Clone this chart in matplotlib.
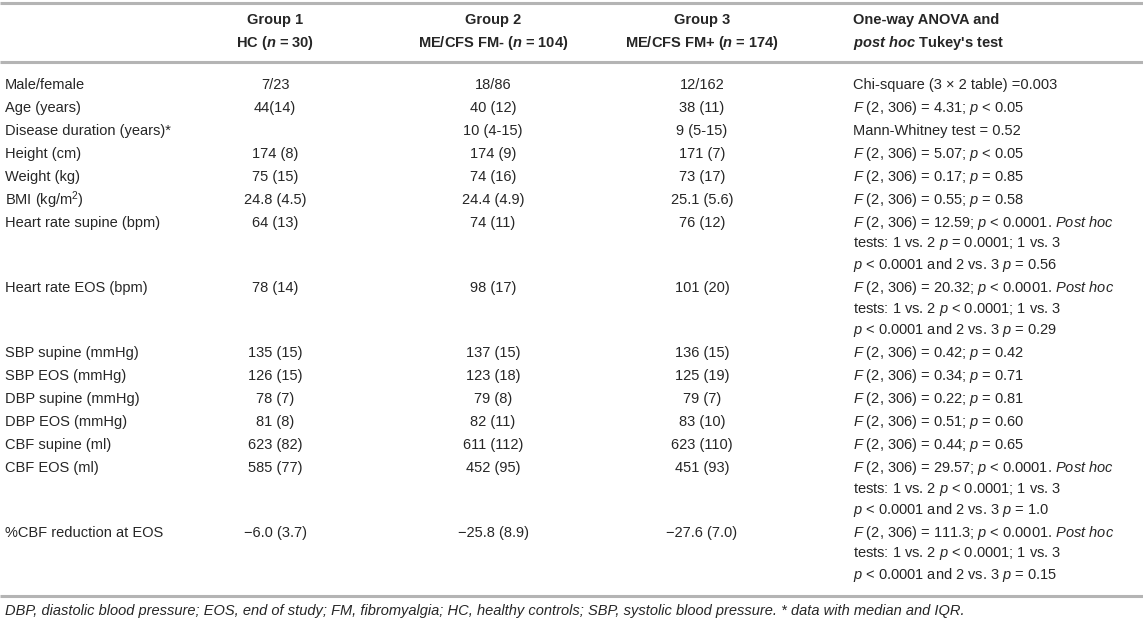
import matplotlib.pyplot as plt

plt.rcParams['font.family'] = 'Liberation Sans'
plt.rcParams['mathtext.fontset'] = 'custom'
plt.rcParams['mathtext.rm'] = 'Liberation Sans'
plt.rcParams['mathtext.it'] = 'Liberation Sans:italic'
plt.rcParams['mathtext.bf'] = 'Liberation Sans:bold'
plt.rcParams['mathtext.bfit'] = 'Liberation Sans:italic:bold'

# table content
col_headers = [
    ['Group 1', r'HC ($\mathbfit{n}$ = 30)'],
    ['Group 2', r'ME/CFS FM- ($\mathbfit{n}$ = 104)'],
    ['Group 3', r'ME/CFS FM+ ($\mathbfit{n}$ = 174)'],
]
stats_header = ['One-way ANOVA and', r"$\mathbfit{post\ hoc}$ Tukey's test"]

row_labels = ['Male/female', 'Age (years)', 'Disease duration (years)*', 'Height (cm)',
              'Weight (kg)', r'BMI (kg/m$^2$)', 'Heart rate supine (bpm)',
              'Heart rate EOS (bpm)', 'SBP supine (mmHg)', 'SBP EOS (mmHg)',
              'DBP supine (mmHg)', 'DBP EOS (mmHg)', 'CBF supine (ml)', 'CBF EOS (ml)',
              '%CBF reduction at EOS']
group1 = ['7/23', '44(14)', '', '174 (8)', '75 (15)', '24.8 (4.5)', '64 (13)', '78 (14)',
          '135 (15)', '126 (15)', '78 (7)', '81 (8)', '623 (82)', '585 (77)', '\u22126.0 (3.7)']
group2 = ['18/86', '40 (12)', '10 (4-15)', '174 (9)', '74 (16)', '24.4 (4.9)', '74 (11)',
          '98 (17)', '137 (15)', '123 (18)', '79 (8)', '82 (11)', '611 (112)', '452 (95)',
          '\u221225.8 (8.9)']
group3 = ['12/162', '38 (11)', '9 (5-15)', '171 (7)', '73 (17)', '25.1 (5.6)', '76 (12)',
          '101 (20)', '136 (15)', '125 (19)', '79 (7)', '83 (10)', '623 (110)', '451 (93)',
          '\u221227.6 (7.0)']
stats = [
    ['Chi-square (3 \u00d7 2 table) =0.003'],
    [r'$F$ (2, 306) = 4.31; $p$ < 0.05'],
    ['Mann-Whitney test = 0.52'],
    [r'$F$ (2, 306) = 5.07; $p$ < 0.05'],
    [r'$F$ (2, 306) = 0.17; $p$ = 0.85'],
    [r'$F$ (2, 306) = 0.55; $p$ = 0.58'],
    [r'$F$ (2, 306) = 12.59; $p$ < 0.0001. $Post\ hoc$',
     r'tests: 1 vs. 2 $p$ = 0.0001; 1 vs. 3',
     r'$p$ < 0.0001 and 2 vs. 3 $p$ = 0.56'],
    [r'$F$ (2, 306) = 20.32; $p$ < 0.0001. $Post\ hoc$',
     r'tests: 1 vs. 2 $p$ < 0.0001; 1 vs. 3',
     r'$p$ < 0.0001 and 2 vs. 3 $p$ = 0.29'],
    [r'$F$ (2, 306) = 0.42; $p$ = 0.42'],
    [r'$F$ (2, 306) = 0.34; $p$ = 0.71'],
    [r'$F$ (2, 306) = 0.22; $p$ = 0.81'],
    [r'$F$ (2, 306) = 0.51; $p$ = 0.60'],
    [r'$F$ (2, 306) = 0.44; $p$ = 0.65'],
    [r'$F$ (2, 306) = 29.57; $p$ < 0.0001. $Post\ hoc$',
     r'tests: 1 vs. 2 $p$ < 0.0001; 1 vs. 3',
     r'$p$ < 0.0001 and 2 vs. 3 $p$ = 1.0'],
    [r'$F$ (2, 306) = 111.3; $p$ < 0.0001. $Post\ hoc$',
     r'tests: 1 vs. 2 $p$ < 0.0001; 1 vs. 3',
     r'$p$ < 0.0001 and 2 vs. 3 $p$ = 0.15'],
]
footnote = ('DBP, diastolic blood pressure; EOS, end of study; FM, fibromyalgia; '
            'HC, healthy controls; SBP, systolic blood pressure. * data with median and IQR.')

W, H = 1143, 623
fig = plt.figure(figsize=(W / 100, H / 100), dpi=100)
ax = fig.add_axes([0, 0, 1, 1])
ax.set_xlim(0, W)
ax.set_ylim(H, 0)
ax.axis('off')

txt = '#262626'
rule = '#b4b4b4'
fs = 10.5
x_label = 5
x_groups = [275, 493, 702]
x_stats = 853

# rules
for y in (3, 62, 596):
    ax.plot([0, W], [y, y], color=rule, lw=2.2, solid_capstyle='butt')

# header
for xc, lines in zip(x_groups, col_headers):
    ax.text(xc, 20, lines[0], ha='center', va='center', fontsize=fs, weight='bold', color=txt)
    ax.text(xc, 43, lines[1], ha='center', va='center', fontsize=fs, weight='bold', color=txt)
ax.text(x_stats, 20, stats_header[0], ha='left', va='center', fontsize=fs, weight='bold', color=txt)
ax.text(x_stats, 43, stats_header[1], ha='left', va='center', fontsize=fs, weight='bold', color=txt)

# body
y = 85
row_gap = 23
line_gap = 21
for i, lab in enumerate(row_labels):
    ax.text(x_label, y, lab, ha='left', va='center', fontsize=fs, color=txt)
    for xc, col in zip(x_groups, (group1, group2, group3)):
        ax.text(xc, y, col[i], ha='center', va='center', fontsize=fs, color=txt)
    for k, line in enumerate(stats[i]):
        ax.text(x_stats, y + k * line_gap, line, ha='left', va='center', fontsize=fs, color=txt)
    y += row_gap + line_gap * (len(stats[i]) - 1)

ax.text(x_label, 611, footnote, ha='left', va='center', fontsize=fs, style='italic', color=txt)

fig.savefig('out.png', dpi=100)
